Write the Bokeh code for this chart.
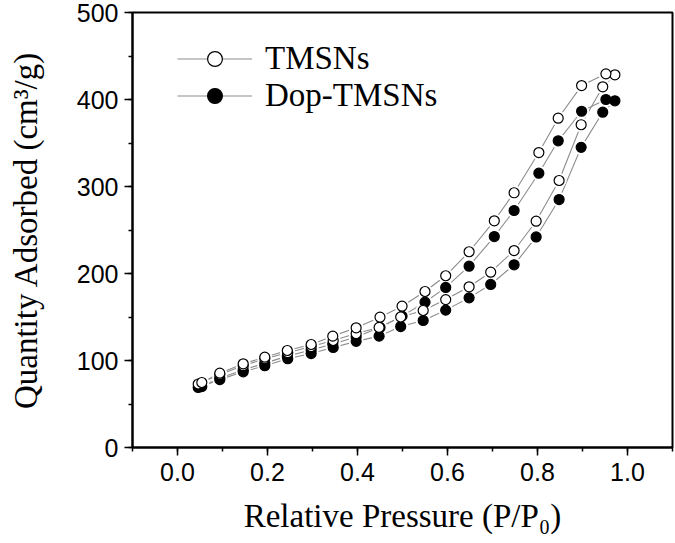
from bokeh.plotting import figure
from bokeh.models import (Legend, LegendItem, FixedTicker, NumeralTickFormatter, Range1d)
from bokeh.embed import file_html
from bokeh.resources import INLINE

# TMSNs (open circles)
tm_ads_x = [0.046, 0.094, 0.146, 0.194, 0.245, 0.297, 0.346, 0.397, 0.448, 0.496,
            0.546, 0.596, 0.648, 0.696, 0.748, 0.797, 0.848, 0.897, 0.945, 0.972]
tm_ads_y = [73, 84, 94, 102, 109, 116, 123, 131, 138, 150,
            157.5, 170, 184.7, 201.5, 226.4, 260.1, 306.9, 371, 414.6, 428.4]
tm_des_x = [0.952, 0.898, 0.846, 0.803, 0.748, 0.704, 0.648, 0.596, 0.550, 0.499,
            0.450, 0.397, 0.345, 0.297, 0.244, 0.194, 0.146, 0.094, 0.054]
tm_des_y = [429.5, 416, 378.5, 339, 292.8, 260.6, 225, 197.4, 179.3, 162.4,
            149.8, 137.6, 128, 118.4, 111.5, 103.8, 96.2, 85.4, 74.7]

# Dop-TMSNs (filled circles)
dop_ads_x = tm_ads_x
dop_ads_y = [69, 78, 87, 94, 102, 108, 115, 122, 128, 139,
             146, 157.9, 172, 187.4, 210, 242, 285, 345, 385.4, 398.5]
dop_des_x = tm_des_x
dop_des_y = [400, 386.5, 352.5, 315.3, 272.4, 242.5, 208.4, 184, 167, 151,
             138, 127, 119, 112, 105, 97, 89, 80, 70]

x_ticks = [0.0, 0.2, 0.4, 0.6, 0.8, 1.0]
y_ticks = [0, 100, 200, 300, 400, 500]

SERIF = "Liberation Serif"
SANS = "Liberation Sans"

p = figure(width=675, height=543, output_backend="svg", toolbar_location=None,
           x_range=Range1d(-0.1, 1.1), y_range=Range1d(0, 500),
           min_border_left=132, min_border_right=3, min_border_top=12, min_border_bottom=96)
p.frame_width = 540
p.frame_height = 435

p.grid.visible = False
p.outline_line_color = "black"
p.outline_line_width = 2
p.background_fill_color = "white"
p.border_fill_color = "white"

for ax in (p.xaxis[0], p.yaxis[0]):
    ax.axis_line_width = 2
    ax.major_tick_line_width = 1.5
    ax.minor_tick_line_width = 1.5
    ax.major_tick_in = 0
    ax.major_tick_out = 8
    ax.minor_tick_in = 0
    ax.minor_tick_out = 4
    ax.major_label_text_font = SANS
    ax.major_label_text_font_size = "25px"
    ax.major_label_text_color = "black"
    ax.axis_label_text_font = SERIF
    ax.axis_label_text_font_size = "33px"
    ax.axis_label_text_font_style = "normal"
    ax.axis_label_text_color = "black"

p.xaxis.ticker = FixedTicker(ticks=x_ticks, minor_ticks=[round(-0.1 + 0.1 * i, 2) for i in range(13)])
p.yaxis.ticker = FixedTicker(ticks=y_ticks, minor_ticks=[50 * i for i in range(11)])
p.xaxis.formatter = NumeralTickFormatter(format="0.0")
p.xaxis.axis_label = "Relative Pressure (P/P\u2080)"
p.yaxis.axis_label = "Quantity Adsorbed (cm\u00b3/g)"
p.xaxis.major_label_standoff = 7
p.yaxis.major_label_standoff = 6
p.xaxis.axis_label_standoff = 14
p.yaxis.axis_label_standoff = 30

tm_x = tm_ads_x + tm_des_x
tm_y = tm_ads_y + tm_des_y
dop_x = dop_ads_x + dop_des_x
dop_y = dop_ads_y + dop_des_y

LINE = "#8c8c8c"
l1 = p.line(tm_x, tm_y, line_color=LINE, line_width=1.1)
l2 = p.line(dop_x, dop_y, line_color=LINE, line_width=1.1)

h1 = p.scatter(tm_x, tm_y, size=15, fill_color="white", line_color=None)
h2 = p.scatter(dop_x, dop_y, size=15, fill_color="white", line_color=None)

m2 = p.scatter(dop_x, dop_y, size=10, fill_color="black", line_color="black", line_width=1.2)
m1 = p.scatter(tm_x, tm_y, size=10, fill_color="white", line_color="black", line_width=1.2)

legend = Legend(items=[LegendItem(label="TMSNs", renderers=[l1, h1, m1]),
                       LegendItem(label="Dop-TMSNs", renderers=[l2, h2, m2])],
                location=(45, 333), orientation="vertical")
legend.border_line_color = None
legend.background_fill_alpha = 0
legend.padding = 0
legend.margin = 0
legend.spacing = 0
legend.glyph_width = 75
legend.glyph_height = 37
legend.label_height = 37
legend.label_standoff = 13
legend.label_text_font = SERIF
legend.label_text_font_size = "33px"
legend.label_text_color = "black"
p.add_layout(legend, "center")

open("out.html", "w").write(file_html(p, INLINE))
